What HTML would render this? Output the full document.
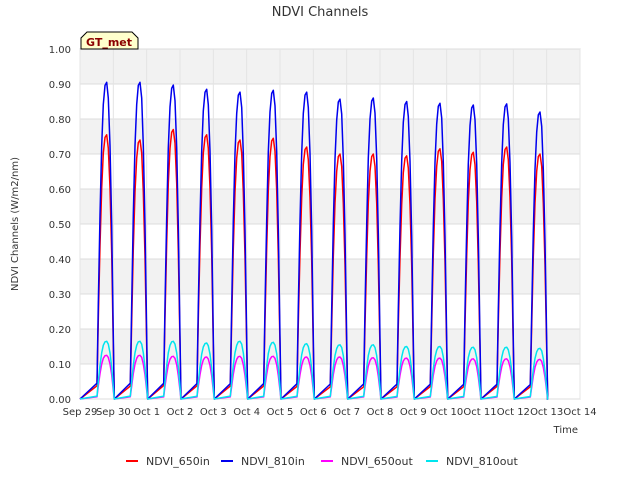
<!DOCTYPE html>
<html><head><meta charset="utf-8"><style>
body{margin:0;background:#fff;font-family:"Liberation Sans","DejaVu Sans",sans-serif;}
svg text{font-family:"DejaVu Sans","Liberation Sans",sans-serif;}
</style></head><body>
<svg id="chart" width="640" height="480"></svg>
<script>
const dayLabels=["Sep 29","Sep 30","Oct 1","Oct 2","Oct 3","Oct 4","Oct 5","Oct 6","Oct 7","Oct 8","Oct 9","Oct 10","Oct 11","Oct 12","Oct 13","Oct 14"];
const yTicks=[0,0.1,0.2,0.3,0.4,0.5,0.6,0.7,0.8,0.9,1.0];
const peak650in=[0.755,0.74,0.77,0.755,0.74,0.745,0.72,0.70,0.70,0.695,0.715,0.705,0.72,0.70];
const peak810in=[0.905,0.905,0.897,0.885,0.877,0.882,0.877,0.857,0.860,0.850,0.845,0.840,0.843,0.820];
const peak650out=[0.125,0.125,0.122,0.12,0.122,0.122,0.12,0.12,0.118,0.117,0.117,0.115,0.115,0.113];
const peak810out=[0.165,0.165,0.165,0.16,0.165,0.162,0.158,0.155,0.155,0.15,0.15,0.148,0.148,0.145];
const pulseOffsets=[0.51,0.55,0.6,0.65,0.7,0.75,0.8,0.85,0.9,0.95,1.0,1.03];
const pulseShape=[0.05,0.3,0.58,0.8,0.93,0.99,1.0,0.95,0.8,0.55,0.2,0];
const series=[
 {name:"NDVI_650in",color:"#ff0000",peaks:peak650in},
 {name:"NDVI_810in",color:"#0000ee",peaks:peak810in},
 {name:"NDVI_650out",color:"#ff00ff",peaks:peak650out},
 {name:"NDVI_810out",color:"#00e5ee",peaks:peak810out}];
const NS="http://www.w3.org/2000/svg";
const svg=document.getElementById('chart');
const L=80,R=580,T=49,B=399;
const xs=d=>L+(R-L)*d/15;
const ys=v=>B-(B-T)*v;
function el(tag,attrs,parent){const e=document.createElementNS(NS,tag);for(const k in attrs)e.setAttribute(k,attrs[k]);(parent||svg).appendChild(e);return e;}
const bg=el('rect',{x:L,y:T,width:R-L,height:B-T,fill:'#fff',stroke:'#ccc'});


for(let i=1;i<10;i+=2){const b=el('rect',{x:L,y:ys(yTicks[i+1]),width:R-L,height:ys(yTicks[i])-ys(yTicks[i+1]),fill:'#f2f2f2'});

}
yTicks.forEach(v=>{const g=el('line',{x1:L,x2:R,y1:ys(v),y2:ys(v),stroke:'#dcdcdc'});


const t=el('text',{x:L-9,y:ys(v)+4,'text-anchor':'end','font-size':10,fill:'#333'});t.textContent=v.toFixed(2);

});
dayLabels.forEach((s,i)=>{const g=el('line',{x1:xs(i),x2:xs(i),y1:T,y2:B,stroke:'#e4e4e4'});


const t=el('text',{x:xs(i),y:B+16,'text-anchor':'middle','font-size':10,fill:'#333'});t.textContent=s;

});
series.forEach(s=>{let pts=[[xs(0),ys(0)]];
s.peaks.forEach((p,d)=>{pulseOffsets.forEach((o,k)=>{pts.push([xs(d+o),ys(p*pulseShape[k])]);});});
pts.push([xs(14),ys(0)]);
const pl=el('polyline',{points:pts.map(p=>p[0].toFixed(1)+','+p[1].toFixed(1)).join(' '),fill:'none',stroke:s.color,'stroke-width':1.5,'stroke-linejoin':'round'});

});
const title=el('text',{x:320,y:16,'text-anchor':'middle','font-size':13,fill:'#333'});title.textContent='NDVI Channels';


const yt=el('text',{x:0,y:0,'text-anchor':'middle','font-size':10,fill:'#333',transform:'translate(18,224) rotate(-90)'});yt.textContent='NDVI Channels (W/m2/nm)';


const xt=el('text',{x:578,y:433,'text-anchor':'end','font-size':10,fill:'#333'});xt.textContent='Time';


const gb=el('path',{d:'M81,49 L81,38 L87,32 L132,32 L138,38 L138,49 Z',fill:'#ffffcc',stroke:'#000'});


const gt=el('text',{x:109,y:46,'text-anchor':'middle','font-size':11,'font-weight':'bold',fill:'#8b0000'});gt.textContent='GT_met';


const lx=[126,221,321,426];
series.forEach((s,i)=>{const g=el('g',{});


el('line',{x1:lx[i],x2:lx[i]+12,y1:461,y2:461,stroke:s.color,'stroke-width':2},g);
const t=el('text',{x:lx[i]+20,y:465,'font-size':11,fill:'#333'},g);t.textContent=s.name;});
</script>
</body></html>
